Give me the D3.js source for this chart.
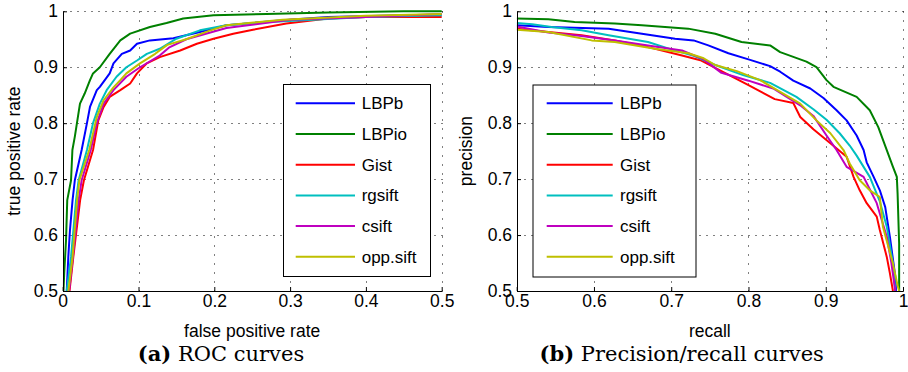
<!DOCTYPE html>
<html><head><meta charset="utf-8">
<script src="https://cdn.jsdelivr.net/npm/d3@7"></script>
<style>body{margin:0;background:#fff}</style>
</head><body><svg id="c" width="908" height="372"></svg>
<script>
const seriesNames = ["LBPb","LBPio","Gist","rgsift","csift","opp.sift"];
const seriesColors = ["#0000ff","#008000","#ff0000","#00bfbf","#bf00bf","#bfbf00"];

// ROC curves: [false positive rate, true positive rate]
const rocLBPb = [[0.0053,0.5],[0.0074,0.561],[0.0096,0.609],[0.013,0.6625],[0.016,0.698],[0.025,0.752],[0.032,0.8],[0.036,0.829],[0.045,0.859],[0.049,0.865],[0.062,0.889],[0.067,0.907],[0.078,0.924],[0.089,0.93],[0.098,0.942],[0.115,0.948],[0.146,0.952],[0.181,0.963],[0.216,0.975],[0.29,0.984],[0.35,0.99],[0.45,0.993],[0.5,0.994]];
const rocLBPio = [[0.001,0.5],[0.002,0.532],[0.0044,0.591],[0.006,0.6625],[0.011,0.698],[0.0128,0.752],[0.016,0.776],[0.0228,0.835],[0.029,0.853],[0.036,0.877],[0.040,0.889],[0.049,0.9],[0.062,0.924],[0.076,0.948],[0.089,0.96],[0.115,0.972],[0.137,0.979],[0.159,0.987],[0.199,0.993],[0.269,0.995],[0.35,0.998],[0.45,1.0],[0.5,1.0]];
const rocGist = [[0.009,0.5],[0.014,0.561],[0.023,0.6625],[0.028,0.698],[0.040,0.752],[0.047,0.805],[0.054,0.829],[0.062,0.847],[0.076,0.859],[0.089,0.871],[0.098,0.889],[0.111,0.907],[0.128,0.918],[0.155,0.93],[0.177,0.942],[0.199,0.951],[0.225,0.96],[0.251,0.967],[0.295,0.978],[0.35,0.987],[0.4,0.99],[0.5,0.99]];
const rocRgsift = [[0.0053,0.5],[0.011,0.561],[0.0176,0.6625],[0.021,0.698],[0.032,0.752],[0.040,0.8],[0.049,0.835],[0.058,0.859],[0.071,0.883],[0.084,0.9],[0.098,0.912],[0.111,0.924],[0.128,0.933],[0.15,0.951],[0.181,0.966],[0.216,0.975],[0.26,0.98],[0.33,0.985],[0.4,0.99],[0.5,0.993]];
const rocCsift = [[0.0085,0.5],[0.0135,0.561],[0.021,0.6625],[0.025,0.698],[0.037,0.752],[0.045,0.8],[0.054,0.835],[0.067,0.859],[0.084,0.883],[0.102,0.9],[0.128,0.921],[0.14,0.935],[0.163,0.95],[0.216,0.97],[0.3,0.985],[0.4,0.99],[0.5,0.995]];
const rocOppSift = [[0.0075,0.5],[0.013,0.561],[0.019,0.6625],[0.022,0.698],[0.035,0.752],[0.045,0.811],[0.054,0.841],[0.067,0.864],[0.076,0.877],[0.084,0.889],[0.102,0.907],[0.122,0.924],[0.138,0.94],[0.163,0.95],[0.193,0.965],[0.216,0.975],[0.29,0.985],[0.4,0.992],[0.5,0.995]];

// Precision/recall curves: [recall, precision]
const prLBPb = [[0.5,0.975],[0.541,0.972],[0.619,0.969],[0.662,0.96],[0.705,0.951],[0.729,0.948],[0.748,0.939],[0.774,0.925],[0.8,0.914],[0.828,0.902],[0.841,0.892],[0.858,0.876],[0.88,0.862],[0.897,0.845],[0.914,0.823],[0.927,0.805],[0.94,0.778],[0.949,0.752],[0.953,0.73],[0.962,0.704],[0.97,0.68],[0.977,0.65],[0.983,0.597],[0.99,0.526],[0.991,0.5]];
const prLBPio = [[0.5,0.987],[0.541,0.986],[0.575,0.981],[0.627,0.978],[0.662,0.975],[0.722,0.969],[0.757,0.96],[0.791,0.945],[0.828,0.939],[0.841,0.927],[0.875,0.91],[0.888,0.9],[0.901,0.877],[0.91,0.865],[0.94,0.847],[0.957,0.823],[0.968,0.793],[0.979,0.752],[0.987,0.722],[0.992,0.704],[0.993,0.674],[0.995,0.585],[0.995,0.5]];
const prGist = [[0.5,0.969],[0.541,0.963],[0.584,0.957],[0.627,0.948],[0.67,0.936],[0.714,0.921],[0.739,0.912],[0.765,0.893],[0.8,0.868],[0.834,0.843],[0.858,0.836],[0.867,0.811],[0.884,0.789],[0.906,0.764],[0.927,0.74],[0.936,0.704],[0.944,0.68],[0.953,0.657],[0.966,0.633],[0.97,0.609],[0.979,0.561],[0.983,0.532],[0.987,0.5]];
const prRgsift = [[0.5,0.979],[0.52,0.977],[0.545,0.972],[0.584,0.966],[0.619,0.957],[0.67,0.945],[0.7,0.932],[0.73,0.92],[0.757,0.904],[0.793,0.886],[0.828,0.872],[0.862,0.847],[0.884,0.825],[0.901,0.806],[0.918,0.782],[0.931,0.76],[0.94,0.742],[0.957,0.704],[0.97,0.66],[0.979,0.615],[0.987,0.549],[0.99,0.5]];
const prCsift = [[0.5,0.973],[0.541,0.962],[0.584,0.956],[0.627,0.948],[0.67,0.939],[0.714,0.93],[0.742,0.914],[0.765,0.89],[0.8,0.876],[0.832,0.862],[0.867,0.832],[0.884,0.813],[0.901,0.778],[0.914,0.752],[0.927,0.722],[0.949,0.704],[0.957,0.682],[0.966,0.657],[0.979,0.597],[0.985,0.55],[0.99,0.5]];
const prOppSift = [[0.5,0.967],[0.541,0.963],[0.597,0.948],[0.627,0.945],[0.679,0.933],[0.722,0.925],[0.742,0.916],[0.757,0.904],[0.785,0.893],[0.815,0.877],[0.841,0.856],[0.867,0.835],[0.888,0.805],[0.906,0.782],[0.923,0.752],[0.931,0.728],[0.944,0.698],[0.957,0.68],[0.97,0.668],[0.974,0.615],[0.987,0.549],[0.993,0.51],[0.995,0.5]];

const rocXTicks = [0,0.1,0.2,0.3,0.4,0.5];
const rocYTicks = [0.5,0.6,0.7,0.8,0.9,1];
const prXTicks = [0.5,0.6,0.7,0.8,0.9,1];
const prYTicks = [0.5,0.6,0.7,0.8,0.9,1];

const rocSeries = [rocLBPb, rocLBPio, rocGist, rocRgsift, rocCsift, rocOppSift];
const prSeries = [prLBPb, prLBPio, prGist, prRgsift, prCsift, prOppSift];

const SANS = "'Liberation Sans', Arial, Helvetica, sans-serif";
const SERIF = "'DejaVu Serif', serif";
const svg = d3.select("#c");
svg.append("rect").attr("width",908).attr("height",372).attr("fill","#fff");
const fmt = d3.format("~g");

function panel(cfg, idx) {
  const x = d3.scaleLinear().domain([cfg.xTicks[0], cfg.xTicks[cfg.xTicks.length-1]]).range([cfg.left, cfg.right]);
  const y = d3.scaleLinear().domain([cfg.yTicks[0], cfg.yTicks[cfg.yTicks.length-1]]).range([cfg.bottom, cfg.top]);
  const g = svg.append("g");
  const crisp = v => Math.round(v) + 0.5;

  // dotted grid
  g.append("g").selectAll("line").data(cfg.yTicks.slice(1)).join("line")
    .attr("x1", crisp(cfg.left)).attr("x2", crisp(cfg.right))
    .attr("y1", d => crisp(y(d))).attr("y2", d => crisp(y(d)))
    .attr("stroke", "#000").attr("stroke-width", 1).attr("stroke-dasharray", "1,6");
  g.append("g").selectAll("line").data(cfg.xTicks.slice(1)).join("line")
    .attr("x1", d => crisp(x(d))).attr("x2", d => crisp(x(d)))
    .attr("y1", crisp(cfg.bottom)).attr("y2", crisp(cfg.top))
    .attr("stroke", "#000").attr("stroke-width", 1).attr("stroke-dasharray", "1,8");

  // curves
  const clipId = "clip" + idx;
  svg.append("clipPath").attr("id", clipId).append("rect")
    .attr("x", cfg.left).attr("y", cfg.top - 2).attr("width", cfg.right - cfg.left + 2).attr("height", cfg.bottom - cfg.top + 2);
  const line = d3.line().x(d => x(d[0])).y(d => y(d[1]));
  g.append("g").attr("clip-path", `url(#${clipId})`).selectAll("path").data(cfg.series).join("path")
    .attr("d", line).attr("fill", "none")
    .attr("stroke", (d, i) => seriesColors[i]).attr("stroke-width", 2).attr("stroke-linejoin", "round");

  // axes
  g.append("g").attr("transform", `translate(0,${Math.round(cfg.bottom)})`)
    .call(d3.axisBottom(x).tickValues(cfg.xTicks).tickSize(-4).tickSizeOuter(0).tickPadding(4).tickFormat(fmt))
    .attr("font-size", 17.5).attr("font-family", SANS);
  g.append("g").attr("transform", `translate(${Math.round(cfg.left)},0)`)
    .call(d3.axisLeft(y).tickValues(cfg.yTicks).tickSize(-4).tickSizeOuter(0).tickPadding(5).tickFormat(fmt))
    .attr("font-size", 17.5).attr("font-family", SANS);

  // axis labels
  g.append("text").attr("x", (cfg.left + cfg.right) / 2).attr("y", 336.5)
    .attr("text-anchor", "middle").attr("font-family", SANS).attr("font-size", 17.5).text(cfg.xLabel);
  g.append("text").attr("transform", `translate(${cfg.yLabelX},${(cfg.top + cfg.bottom) / 2}) rotate(-90)`)
    .attr("text-anchor", "middle").attr("font-family", SANS).attr("font-size", 17.5).text(cfg.yLabel);

  // legend
  const L = cfg.legend;
  g.append("rect").attr("x", L.x + 0.5).attr("y", L.y + 0.5).attr("width", L.w).attr("height", L.h)
    .attr("fill", "#fff").attr("stroke", "#000").attr("stroke-width", 1);
  const rows = g.append("g").selectAll("g").data(seriesNames).join("g")
    .attr("transform", (d, i) => `translate(0,${L.row0 + i * L.rowStep})`);
  rows.append("line").attr("x1", L.lx1).attr("x2", L.lx2).attr("y1", 0).attr("y2", 0)
    .attr("stroke", (d, i) => seriesColors[i]).attr("stroke-width", 2);
  rows.append("text").attr("x", L.tx).attr("y", 0).attr("dy", "0.35em")
    .attr("font-family", SANS).attr("font-size", 17).text(d => d);

  // caption
  const cap = g.append("text").attr("x", cfg.capX).attr("y", 361).attr("text-anchor", "middle")
    .attr("font-family", SERIF).attr("font-size", 21);
  cap.append("tspan").attr("font-weight", "bold").text(cfg.capTag);
  cap.append("tspan").text(" " + cfg.capText);
}

panel({
  left: 62.7, right: 441.7, top: 11.3, bottom: 291,
  xTicks: rocXTicks, yTicks: rocYTicks, series: rocSeries,
  xLabel: "false positive rate", yLabel: "true positive rate", yLabelX: 20,
  legend: {x: 283, y: 84, w: 147, h: 192, row0: 103.3, rowStep: 30.7, lx1: 295.7, lx2: 355, tx: 361.7},
  capX: 221, capTag: "(a)", capText: "ROC curves"
}, 0);

panel({
  left: 516.7, right: 903, top: 11.3, bottom: 291,
  xTicks: prXTicks, yTicks: prYTicks, series: prSeries,
  xLabel: "recall", yLabel: "precision", yLabelX: 472,
  legend: {x: 532.5, y: 84.5, w: 163, h: 192, row0: 103.3, rowStep: 30.7, lx1: 546.7, lx2: 612.7, tx: 620},
  capX: 681.7, capTag: "(b)", capText: "Precision/recall curves"
}, 1);
</script></body></html>
